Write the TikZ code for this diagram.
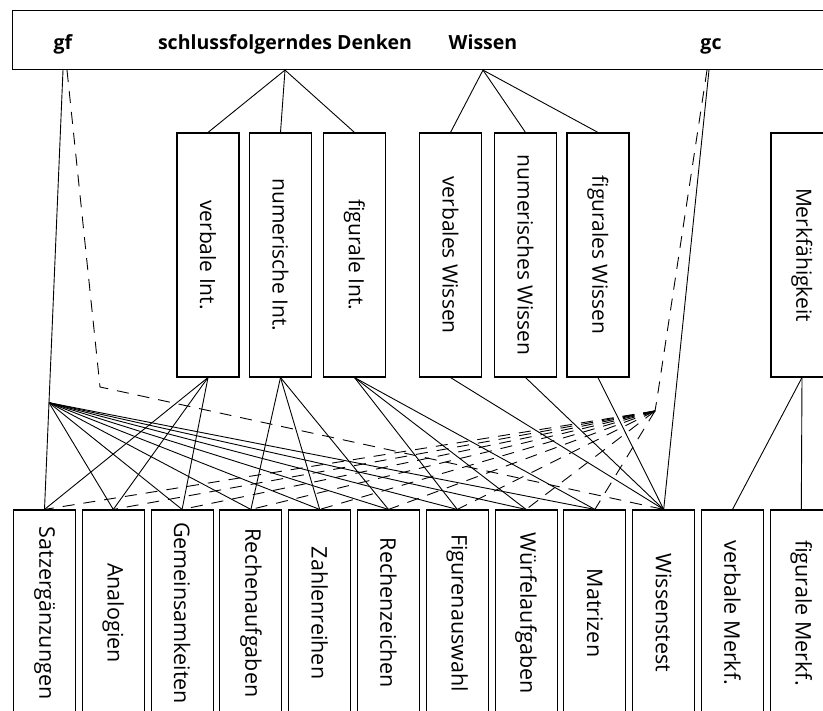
\documentclass[tikz,border=0pt]{standalone}
\usepackage{graphicx}
\usepackage{fontspec}
\setmainfont{Open Sans}
\usetikzlibrary{calc}
\begin{document}
\begin{tikzpicture}[x=1pt,y=-1pt,line width=0.9pt,
  frame/.style={draw,line width=1.1pt,inner sep=0pt,minimum width=62pt},
  midbox/.style={frame,minimum height=244pt,font=\fontsize{21}{24}\selectfont},
  testbox/.style={frame,minimum height=206pt,font=\fontsize{21.5}{24}\selectfont},
  lbl/.style={font=\bfseries\fontsize{19.5}{23}\selectfont,inner sep=0pt,anchor=base},
  dashlink/.style={dash pattern=on 12pt off 9pt}]
\useasboundingbox (0,0) rectangle (823,711);
\clip (0,0) rectangle (823,711);

% factor bar at the top
\node[frame,minimum width=820pt,minimum height=59pt,anchor=north west] (top) at (12,10) {};
\node[lbl] (gf) at (63,50) {gf};
\node[lbl] (sd) at (285,50) {schlussfolgerndes Denken};
\node[lbl] (wi) at (483,50) {Wissen};
\node[lbl] (gc) at (711,50) {gc};
\coordinate (gfTop) at (gf |- top.south);
\coordinate (sdTop) at (sd |- top.south);
\coordinate (wiTop) at (wi |- top.south);
\coordinate (gcTop) at (gc |- top.south);

% middle tier
\node[midbox] (vInt) at (208,255) {\rotatebox{-90}{verbale Int.}};
\node[midbox] (nInt) at (280.5,255) {\rotatebox{-90}{numerische Int.}};
\node[midbox] (fInt) at (354.5,255) {\rotatebox{-90}{figurale Int.}};
\node[midbox] (vWi) at (450.5,255) {\rotatebox{-90}{verbales Wissen}};
\node[midbox] (nWi) at (525.5,255) {\rotatebox{-90}{numerisches Wissen}};
\node[midbox] (fWi) at (598,255) {\rotatebox{-90}{figurales Wissen}};
\node[midbox] (mf) at (802,255) {\rotatebox{-90}{Merkfähigkeit}};

% subtests
\foreach \i/\x/\t in {1/44.5/Satzergänzungen,2/113.3/Analogien,3/182.1/Gemeinsamkeiten,
  4/250.9/Rechenaufgaben,5/319.7/Zahlenreihen,6/388.5/Rechenzeichen,
  7/457.3/Figurenauswahl,8/526.1/Würfelaufgaben,9/594.9/Matrizen,
  10/663.7/Wissenstest,11/732.5/verbale Merkf.,12/801.3/figurale Merkf.}
  \node[testbox] (b\i) at (\x,613) {\rotatebox{-90}{\t}};

% general factors: gf (solid to reasoning tests, dashed to knowledge)
\coordinate (hubF) at ($(gfTop)!0.757!(b1.north)$);
\draw (gfTop) -- (b1.north);
\foreach \i in {2,...,9} \draw (hubF) -- (b\i.north);
\coordinate (cornerF) at (100,387);
\draw[dashlink] ([xshift=4pt]gfTop) -- (cornerF) -- (b10.north);

% gc (solid to knowledge, dashed to reasoning tests)
\coordinate (cornerC) at (657,399);
\coordinate (hubC) at (655,411);
\draw ([xshift=-2pt]gcTop) -- (b10.north);
\draw[dashlink] ([xshift=-4pt]gcTop) -- (cornerC) -- (hubC);
\foreach \i in {1,...,9} \draw[dashlink] (hubC) -- (b\i.north);

% content factors
\foreach \n in {vInt,nInt,fInt} \draw (sdTop) -- (\n.north);
\foreach \n in {vWi,nWi,fWi} \draw (wiTop) -- (\n.north);
\foreach \n/\i in {vInt/1,vInt/2,vInt/3,nInt/4,nInt/5,nInt/6,fInt/7,fInt/8,fInt/9,
  vWi/10,nWi/10,fWi/10,mf/11,mf/12}
  \draw (\n.south) -- (b\i.north);
\end{tikzpicture}
\end{document}
